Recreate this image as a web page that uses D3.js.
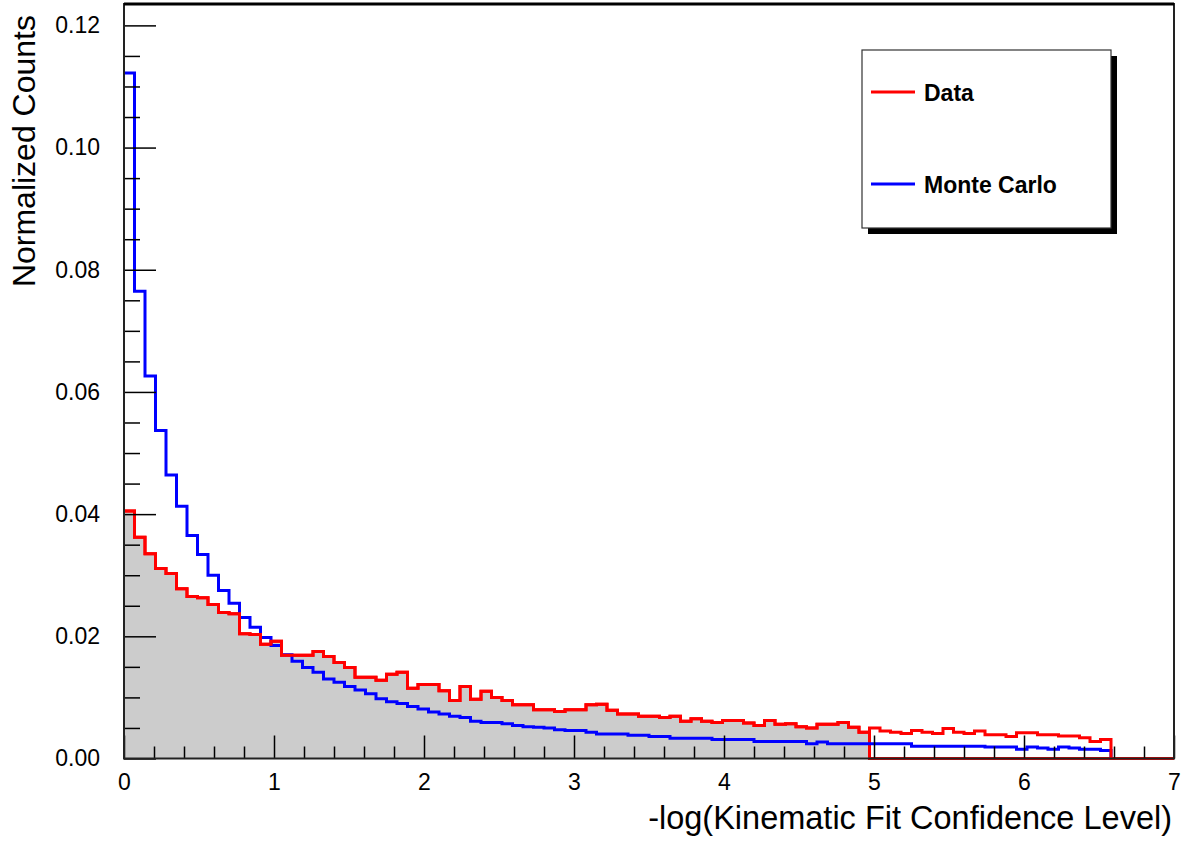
<!DOCTYPE html>
<html>
<head>
<meta charset="utf-8">
<script src="https://cdn.jsdelivr.net/npm/d3@7"></script>
<style>
  body { margin: 0; background: #fff; }
  svg { display: block; font-family: "Liberation Sans", Arial, Helvetica, sans-serif; }
</style>
</head>
<body>
<div id="viz"></div>
<script>
const width = 1187;
const height = 841;
const frame = {left: 124, right: 1174, top: 4, bottom: 758.5};

// binning of the histograms: 100 bins of 0.07 from 0 to 7
const binWidth = 0.07;
const xTicks = [0, 1, 2, 3, 4, 5, 6, 7];
const yTicks = [0, 0.02, 0.04, 0.06, 0.08, 0.10, 0.12];
const yMax = 0.1235;
const cutValue = 4.97; // gray histogram only filled below this edge

// normalized counts per bin
const dataCounts = [
  0.0405, 0.0362, 0.0335, 0.0311, 0.0303, 0.0278, 0.0265, 0.0263, 0.0252, 0.0239,
  0.0237, 0.0204, 0.0203, 0.0187, 0.0192, 0.0169, 0.0169, 0.0169, 0.0175, 0.0167,
  0.0157, 0.0149, 0.0133, 0.0133, 0.0128, 0.0138, 0.0141, 0.0115, 0.0121, 0.0121,
  0.0111, 0.0095, 0.0118, 0.0097, 0.0110, 0.0100, 0.0095, 0.0088, 0.0088, 0.0080,
  0.0080, 0.0077, 0.0080, 0.0080, 0.0088, 0.0089, 0.0079, 0.0073, 0.0073, 0.0069,
  0.0069, 0.0067, 0.0069, 0.0061, 0.0065, 0.0061, 0.0059, 0.0062, 0.0062, 0.0058,
  0.0054, 0.0062, 0.0056, 0.0057, 0.0052, 0.0050, 0.0056, 0.0056, 0.0059, 0.0051,
  0.0043, 0.0050, 0.0045, 0.0043, 0.0041, 0.0046, 0.0043, 0.0041, 0.0049, 0.0043,
  0.0041, 0.0045, 0.0039, 0.0039, 0.0036, 0.0042, 0.0042, 0.0039, 0.0039, 0.0037,
  0.0037, 0.0034, 0.0028, 0.0031, 0, 0, 0, 0, 0, 0
];
const mcCounts = [
  0.1122, 0.0765, 0.0626, 0.0537, 0.0464, 0.0413, 0.0365, 0.0334, 0.0300, 0.0275,
  0.0254, 0.0231, 0.0215, 0.0198, 0.0185, 0.0170, 0.0159, 0.0149, 0.0141, 0.0130,
  0.0125, 0.0118, 0.0112, 0.0106, 0.0098, 0.0093, 0.0090, 0.0085, 0.0081, 0.0076,
  0.0073, 0.0069, 0.0067, 0.0061, 0.0059, 0.0059, 0.0057, 0.0054, 0.0052, 0.0051,
  0.0050, 0.0047, 0.0046, 0.0046, 0.0043, 0.0040, 0.0040, 0.0040, 0.0038, 0.0038,
  0.0036, 0.0036, 0.0033, 0.0033, 0.0033, 0.0033, 0.0031, 0.0031, 0.0031, 0.0031,
  0.0028, 0.0028, 0.0028, 0.0028, 0.0028, 0.0024, 0.0027, 0.0024, 0.0024, 0.0024,
  0.0024, 0.0024, 0.0024, 0.0024, 0.0024, 0.0020, 0.0020, 0.0020, 0.0020, 0.0020,
  0.0020, 0.0020, 0.0019, 0.0019, 0.0019, 0.0015, 0.0019, 0.0017, 0.0015, 0.0019,
  0.0017, 0.0015, 0.0015, 0.0013, 0, 0, 0, 0, 0, 0
];

const legendItems = [
  { label: 'Data', color: '#ff0000' },
  { label: 'Monte Carlo', color: '#0000ff' },
];

const svg = d3.select('#viz')
  .append('svg')
    .attr('width', width)
    .attr('height', height);

svg.append('rect')
  .attr('width', width)
  .attr('height', height)
  .attr('fill', '#fff');

const scaleX = d3.scaleLinear()
  .domain([0, 7])
  .range([frame.left, frame.right]);

const scaleY = d3.scaleLinear()
  .domain([0, yMax])
  .range([frame.bottom, frame.top]);

// turn bin contents into step points (left edge, value) + closing edge
const toSteps = counts => {
  const pts = counts.map((v, i) => ({x: i * binWidth, y: v}));
  pts.push({x: counts.length * binWidth, y: counts[counts.length - 1]});
  return pts;
};

const cutCounts = dataCounts.map((v, i) => (i + 1) * binWidth <= cutValue + 1e-9 ? v : 0);

const stepLine = d3.line()
  .x(d => scaleX(d.x))
  .y(d => scaleY(d.y))
  .curve(d3.curveStepAfter);

const stepArea = d3.area()
  .x(d => scaleX(d.x))
  .y0(scaleY(0))
  .y1(d => scaleY(d.y))
  .curve(d3.curveStepAfter);

// gray filled histogram (data below the cut)
svg.append('path')
  .attr('d', stepArea(toSteps(cutCounts)))
  .attr('fill', '#cccccc');
svg.append('path')
  .attr('d', stepLine(toSteps(cutCounts)))
  .attr('fill', 'none')
  .attr('stroke', '#ff0000')
  .attr('stroke-width', 3);

// Monte Carlo
svg.append('path')
  .attr('d', stepLine(toSteps(mcCounts)))
  .attr('fill', 'none')
  .attr('stroke', '#0000ff')
  .attr('stroke-width', 3);

// Data
svg.append('path')
  .attr('d', stepLine(toSteps(dataCounts)))
  .attr('fill', 'none')
  .attr('stroke', '#ff0000')
  .attr('stroke-width', 3);

// X axis, ROOT style ticks pointing inward
const xMinor = d3.range(0, 7.001, 0.2).filter(v => Math.abs(v - Math.round(v)) > 1e-6);
svg.append('g')
  .attr('transform', `translate(0,${frame.bottom})`)
  .call(d3.axisBottom(scaleX).tickValues(xMinor).tickSizeInner(-12).tickSizeOuter(0).tickFormat(''))
  .call(g => g.select('.domain').remove());
const xAxis = svg.append('g')
  .attr('transform', `translate(0,${frame.bottom})`)
  .call(d3.axisBottom(scaleX).tickValues(xTicks).tickSizeInner(-23).tickSizeOuter(0).tickPadding(15).tickFormat(d3.format('d')))
  .call(g => g.select('.domain').remove());
xAxis.selectAll('text')
  .style('font-size', '23px')
  .attr('fill', '#000');

// Y axis
const yMinor = d3.range(0, yMax, 0.005).filter(v => Math.abs(v / 0.02 - Math.round(v / 0.02)) > 1e-6);
svg.append('g')
  .attr('transform', `translate(${frame.left},0)`)
  .call(d3.axisLeft(scaleY).tickValues(yMinor).tickSizeInner(-16).tickSizeOuter(0).tickFormat(''))
  .call(g => g.select('.domain').remove());
const yAxis = svg.append('g')
  .attr('transform', `translate(${frame.left},0)`)
  .call(d3.axisLeft(scaleY).tickValues(yTicks).tickSizeInner(-32).tickSizeOuter(0).tickPadding(24).tickFormat(d3.format('.2f')))
  .call(g => g.select('.domain').remove());
yAxis.selectAll('text')
  .style('font-size', '23px')
  .attr('fill', '#000');

svg.selectAll('.tick line')
  .attr('stroke', '#000')
  .attr('stroke-width', 1.5);

// frame
svg.append('rect')
  .attr('x', frame.left)
  .attr('y', frame.top)
  .attr('width', frame.right - frame.left)
  .attr('height', frame.bottom - frame.top)
  .attr('fill', 'none')
  .attr('stroke', '#222')
  .attr('stroke-width', 2);
svg.append('line')
  .attr('x1', frame.left).attr('x2', frame.right)
  .attr('y1', frame.top).attr('y2', frame.top)
  .attr('stroke', '#000')
  .attr('stroke-width', 3);

// axis titles
svg.append('text')
  .attr('x', 1172)
  .attr('y', 829)
  .attr('text-anchor', 'end')
  .style('font-size', '32.5px')
  .text('-log(Kinematic Fit Confidence Level)');
svg.append('text')
  .attr('text-anchor', 'end')
  .attr('transform', 'translate(35,15) rotate(-90)')
  .style('font-size', '32px')
  .text('Normalized Counts');

// legend
const legend = svg.append('g');
legend.append('rect')
  .attr('x', 868).attr('y', 56)
  .attr('width', 249).attr('height', 178)
  .attr('fill', '#000');
legend.append('rect')
  .attr('x', 862).attr('y', 50)
  .attr('width', 249).attr('height', 178)
  .attr('fill', '#fff')
  .attr('stroke', '#333')
  .attr('stroke-width', 1.2);
const entries = legend.selectAll('g.entry')
  .data(legendItems)
  .join('g')
    .attr('class', 'entry')
    .attr('transform', (d, i) => `translate(0,${92 + i * 92})`);
entries.append('line')
  .attr('x1', 871).attr('x2', 915)
  .attr('stroke', d => d.color)
  .attr('stroke-width', 3);
entries.append('text')
  .attr('x', 924)
  .attr('y', 9)
  .style('font-size', '23px')
  .style('font-weight', 'bold')
  .text(d => d.label);
</script>
</body>
</html>
